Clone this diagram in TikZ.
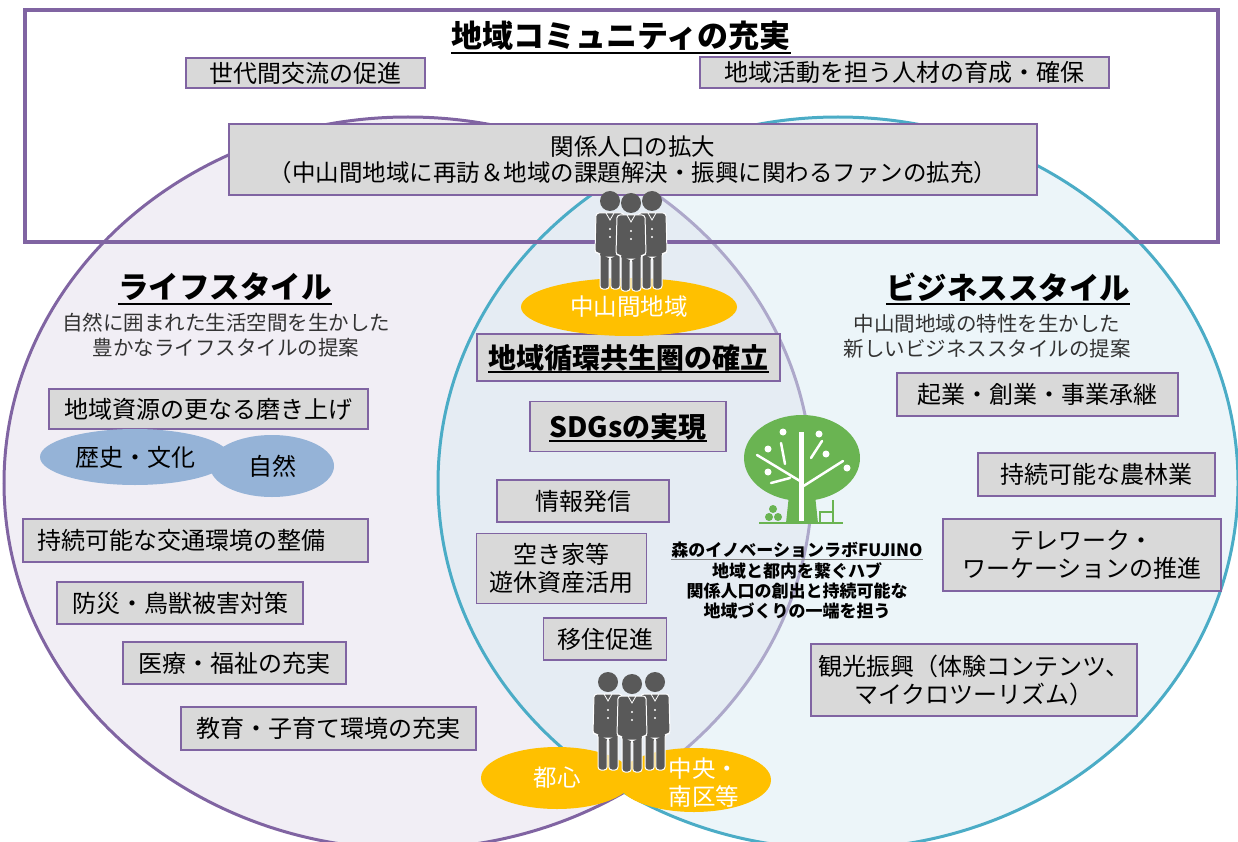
\documentclass[tikz,border=0pt]{standalone}
\usepackage{fontspec}
\setmainfont{Noto Sans CJK JP}
\usetikzlibrary{shapes.geometric}

\definecolor{lifeline}{RGB}{128,100,162}
\definecolor{bizline}{RGB}{75,172,198}
\definecolor{lifefill}{RGB}{241,238,245}
\definecolor{bizfill}{RGB}{218,236,243}
\definecolor{boxgray}{RGB}{217,217,217}
\definecolor{areayellow}{RGB}{255,192,0}
\definecolor{resourceblue}{RGB}{149,179,215}
\definecolor{mangray}{RGB}{89,89,89}
\definecolor{treegreen}{RGB}{106,180,82}

\tikzset{
  item/.style={draw=lifeline, fill=boxgray, line width=1.5pt, inner sep=0pt, align=center, font=\fontsize{24}{28}\selectfont},
  keyword/.style={inner sep=0pt, font=\fontsize{28}{32}\selectfont\bfseries},
  heading/.style={inner sep=0pt, font=\fontsize{30.5}{34}\selectfont\bfseries},
  lead/.style={inner sep=0pt, align=center, text=black!80, font=\fontsize{20.5}{24.5}\selectfont},
  area/.style={ellipse, fill=areayellow, inner sep=0pt, text=white, align=center, font=\fontsize{23.5}{28}\selectfont},
  resource/.style={ellipse, fill=resourceblue, inner sep=0pt, font=\fontsize{24}{28}\selectfont},
  uline/.style={line width=2pt},
  man/.pic={
    \fill[mangray] (0,0) circle (10);
    \filldraw[mangray, draw=white, line width=1pt, rounded corners=3pt] (-14,12) -- (14,12) -- (15,52) -- (10,52) -- (10,88) -- (0.8,88) -- (0.8,56) -- (-0.8,56) -- (-0.8,88) -- (-10,88) -- (-10,52) -- (-15,52) -- cycle;
    \draw[white, line width=0.8pt] (-4,12) -- (0,19) -- (4,12);
    \fill[white] (0,28) circle (1.2) (0,36) circle (1.2);
  }
}

\begin{document}
\begin{tikzpicture}[x=1pt, y=-1pt]
\useasboundingbox (0,0) rectangle (1238,842);

\draw[lifeline, fill=lifefill, line width=3pt] (408,483) ellipse [x radius=404, y radius=366];
\draw[bizline, fill=bizfill, fill opacity=0.5, line width=3pt] (838,483) ellipse [x radius=400, y radius=366];
\draw[lifeline, line width=4pt] (25,10) rectangle (1218,242);

\node[heading, font=\fontsize{31}{36}\selectfont\bfseries] (community) at (621,36) {地域コミュニティの充実};
\draw[uline] ([yshift=-5pt]community.base west) -- ([yshift=-5pt]community.base east);

\node[item, minimum width=239, minimum height=30] (exchange) at (305.5,73) {世代間交流の促進};
\node[item, minimum width=409, minimum height=31] (talent) at (904.5,72.5) {地域活動を担う人材の育成・確保};
\node[item, minimum width=808, minimum height=71, font=\fontsize{23.5}{26}\selectfont] (relation) at (633,159.5) {関係人口の拡大\\（中山間地域に再訪＆地域の課題解決・振興に関わるファンの拡充）};

\node[heading] (life) at (225,287) {ライフスタイル};
\draw[uline] ([yshift=-5pt]life.base west) -- ([yshift=-5pt]life.base east);
\node[lead] (lifelead) at (226,335) {自然に囲まれた生活空間を生かした\\豊かなライフスタイルの提案};

\node[item, minimum width=319, minimum height=40] (resources) at (208.5,409) {地域資源の更なる磨き上げ};
\node[resource, minimum width=190, minimum height=56] (history) at (135,457) {歴史・文化};
\node[resource, minimum width=124, minimum height=62] (nature) at (272,466) {自然};
\node[item, minimum height=43, inner xsep=14pt, text width=317pt, align=left] (transport) at (195.5,540.5) {持続可能な交通環境の整備};
\node[item, minimum width=246, minimum height=42] (disaster) at (180,603) {防災・鳥獣被害対策};
\node[item, minimum width=223, minimum height=42] (welfare) at (234.5,663) {医療・福祉の充実};
\node[item, minimum width=295, minimum height=43] (education) at (328.5,728.5) {教育・子育て環境の充実};

\node[heading] (business) at (1008,287) {ビジネススタイル};
\draw[uline] ([yshift=-5pt]business.base west) -- ([yshift=-5pt]business.base east);
\node[lead] (bizlead) at (987,336) {中山間地域の特性を生かした\\新しいビジネススタイルの提案};

\node[item, minimum width=281, minimum height=43] (startup) at (1037.5,394.5) {起業・創業・事業承継};
\node[item, minimum width=237, minimum height=43] (forestry) at (1096.5,474.5) {持続可能な農林業};
\node[item, minimum width=278, minimum height=72] (telework) at (1082,555) {テレワーク・\\ワーケーションの推進};
\node[item, minimum width=326, minimum height=72] (tourism) at (974,680) {観光振興（体験コンテンツ、\\マイクロツーリズム）};

\node[item, minimum width=303, minimum height=47] (circulation) at (628.5,357.5) {};
\node[keyword] (circulationtext) at (circulation) {地域循環共生圏の確立};
\draw[uline] ([yshift=-4pt]circulationtext.base west) -- ([yshift=-4pt]circulationtext.base east);
\node[item, minimum width=196, minimum height=50] (sdgs) at (628,426.5) {};
\node[keyword] (sdgstext) at (sdgs) {SDGsの実現};
\draw[uline] ([yshift=-4pt]sdgstext.base west) -- ([yshift=-4pt]sdgstext.base east);

\node[item, minimum width=172, minimum height=42] (info) at (583,501) {情報発信};
\node[item, minimum width=170, minimum height=70] (vacant) at (561.5,568.5) {空き家等\\遊休資産活用};
\node[item, minimum width=123, minimum height=42] (migration) at (605,639) {移住促進};

\node[area, minimum width=216, minimum height=58] (mountain) at (629,307) {中山間地域};
\node[area, minimum width=152, minimum height=62] (downtown) at (557,778) {都心};
\node[area, minimum width=154, minimum height=64] (south) at (694,780) {};

\foreach \x/\y in {610/201,652/201,631/203}
  \pic at (\x,\y) {man};
\foreach \x/\y in {608/682,655/682,632/684}
  \pic at (\x,\y) {man};

\node[area, fill=none] (southlabel) at (704,783) {中央・\\南区等};

\fill[treegreen] (802,458) ellipse [x radius=58, y radius=43];
\fill[treegreen] (789,495) -- (815,495) -- (818,523) -- (786,523) -- cycle;
\draw[white, line width=5pt] (801,432) -- (801,521);
\draw[white, line width=2.5pt, line cap=round] (757,455) -- (800,481) (843,461) -- (802,487) (781,443) -- (785,464) (822,441) -- (811,458) (771,483) -- (790,478);
\foreach \x/\y in {783/432,819/434,768/449,826/454,847/468,768/472}
  \fill[white] (\x,\y) circle (3.5);
\draw[treegreen, line width=2.5pt] (759,523) -- (843,523);
\foreach \x/\y in {773/509,769/517,778/517}
  \fill[treegreen] (\x,\y) circle (4);
\draw[treegreen, line width=2pt] (833,500) -- (833,523) (819,512) -- (833,512) (820,512) -- (820,523);

\node[inner sep=0pt, font=\fontsize{17}{20}\selectfont\bfseries] (lab) at (797,550) {森のイノベーションラボFUJINO};
\draw[gray, line width=1.5pt] ([yshift=-3pt]lab.base west) -- ([yshift=-3pt]lab.base east);
\node[inner sep=0pt, align=center, font=\fontsize{17}{20}\selectfont\bfseries] (labrole) at (797,590.5) {地域と都内を繋ぐハブ\\関係人口の創出と持続可能な\\地域づくりの一端を担う};

\end{tikzpicture}
\end{document}
